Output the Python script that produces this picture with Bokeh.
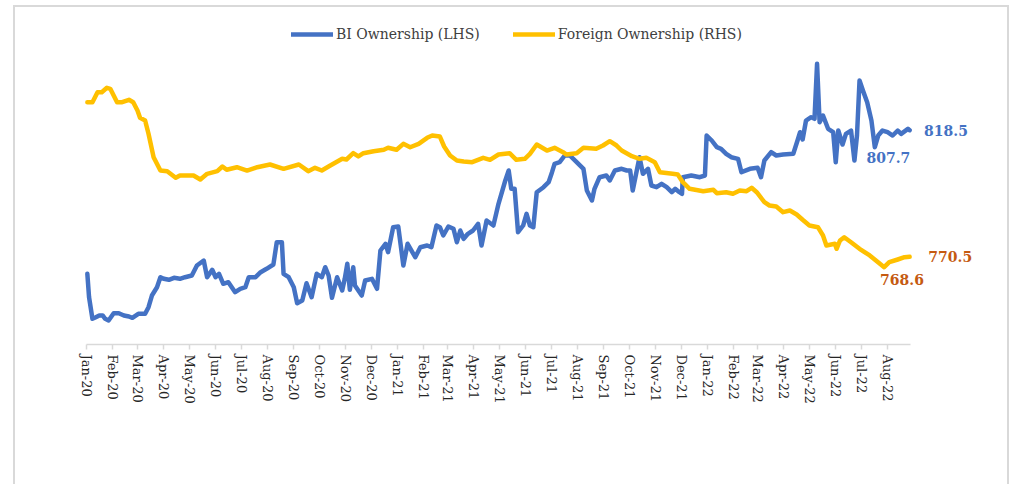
from datetime import datetime
import pandas as pd
from bokeh.plotting import figure
from bokeh.models import (Range1d, DatetimeTickFormatter, MonthsTicker, Legend,
                          LegendItem, Label, ColumnDataSource)
from bokeh.embed import file_html
from bokeh.resources import INLINE

# ---------------- data (Rp trillion) ----------------
bi_dates = [
    "2020-01-02", "2020-01-04", "2020-01-08", "2020-01-12", "2020-01-16", "2020-01-20", "2020-01-23", "2020-01-27",
    "2020-02-02", "2020-02-08", "2020-02-14", "2020-02-20", "2020-02-24", "2020-03-02", "2020-03-10", "2020-03-14",
    "2020-03-18", "2020-03-24", "2020-03-28", "2020-04-01", "2020-04-07", "2020-04-13", "2020-04-20", "2020-04-26",
    "2020-05-04", "2020-05-10", "2020-05-18", "2020-05-22", "2020-05-28", "2020-06-01", "2020-06-05", "2020-06-10",
    "2020-06-16", "2020-06-24", "2020-06-30", "2020-07-06", "2020-07-10", "2020-07-18", "2020-07-24", "2020-07-31",
    "2020-08-08", "2020-08-12", "2020-08-18", "2020-08-20", "2020-08-26", "2020-09-01", "2020-09-05", "2020-09-11",
    "2020-09-16", "2020-09-22", "2020-09-28", "2020-10-04", "2020-10-08", "2020-10-12", "2020-10-16", "2020-10-22",
    "2020-10-28", "2020-10-31", "2020-11-03", "2020-11-06", "2020-11-10", "2020-11-12", "2020-11-20", "2020-11-24",
    "2020-12-02", "2020-12-08", "2020-12-12", "2020-12-18", "2020-12-21", "2020-12-27", "2021-01-02", "2021-01-08",
    "2021-01-13", "2021-01-22", "2021-01-28", "2021-02-05", "2021-02-10", "2021-02-16", "2021-02-20", "2021-02-24",
    "2021-03-02", "2021-03-08", "2021-03-12", "2021-03-16", "2021-03-20", "2021-03-25", "2021-03-31", "2021-04-06",
    "2021-04-10", "2021-04-16", "2021-04-24", "2021-04-30", "2021-05-08", "2021-05-12", "2021-05-15", "2021-05-19",
    "2021-05-23", "2021-05-29", "2021-06-02", "2021-06-06", "2021-06-10", "2021-06-14", "2021-06-22", "2021-06-28",
    "2021-07-02", "2021-07-05", "2021-07-11", "2021-07-17", "2021-07-23", "2021-07-31", "2021-08-08", "2021-08-12",
    "2021-08-18", "2021-08-21", "2021-08-27", "2021-09-04", "2021-09-08", "2021-09-14", "2021-09-22", "2021-09-28",
    "2021-10-02", "2021-10-05", "2021-10-09", "2021-10-13", "2021-10-17", "2021-10-23", "2021-10-27", "2021-11-02",
    "2021-11-08", "2021-11-14", "2021-11-20", "2021-11-24", "2021-11-29", "2021-12-02", "2021-12-03", "2021-12-13",
    "2021-12-23", "2021-12-29", "2021-12-31", "2022-01-06", "2022-01-12", "2022-01-17", "2022-01-23", "2022-01-29",
    "2022-02-06", "2022-02-10", "2022-02-20", "2022-03-01", "2022-03-05", "2022-03-09", "2022-03-17", "2022-03-23",
    "2022-03-31", "2022-04-12", "2022-04-17", "2022-04-20", "2022-04-23", "2022-04-27", "2022-05-03", "2022-05-07",
    "2022-05-10", "2022-05-13", "2022-05-17", "2022-05-23", "2022-05-29", "2022-06-01", "2022-06-04", "2022-06-09",
    "2022-06-13", "2022-06-19", "2022-06-23", "2022-06-26", "2022-06-29", "2022-07-03", "2022-07-08", "2022-07-13",
    "2022-07-17", "2022-07-21", "2022-07-26", "2022-08-01", "2022-08-07", "2022-08-13", "2022-08-17", "2022-08-25",
    "2022-08-27",
]
bi_values = [
    270.0, 180.7, 98.2, 104.3, 110.8, 110.8, 98.2, 91.7,
    119.5, 119.5, 110.8, 106.9, 102.0, 117.3, 117.3, 142.5,
    187.1, 218.8, 257.0, 250.9, 247.1, 254.7, 250.9, 257.0,
    263.5, 301.7, 320.8, 257.0, 285.3, 257.0, 270.0, 231.8,
    237.9, 199.8, 212.7, 218.8, 257.0, 257.0, 276.1, 289.1,
    305.6, 390.7, 390.7, 270.0, 257.0, 218.8, 157.7, 168.0,
    234.1, 180.7, 270.0, 257.0, 295.2, 263.5, 178.4, 257.0,
    206.2, 250.9, 308.2, 208.9, 295.2, 225.3, 187.1, 244.4,
    250.9, 212.7, 359.0, 384.6, 352.5, 448.0, 450.7, 301.7,
    384.6, 333.4, 371.6, 378.1, 371.6, 454.5, 448.0, 416.3,
    450.7, 441.9, 390.7, 435.4, 403.7, 422.8, 435.4, 461.0,
    378.1, 473.6, 454.5, 537.4, 626.4, 664.6, 594.7, 594.7,
    428.9, 454.5, 499.2, 454.5, 448.0, 581.7, 600.8, 619.9,
    658.1, 690.2, 696.3, 721.9, 721.9, 696.3, 671.1, 588.2,
    550.0, 594.7, 639.0, 645.5, 626.4, 664.6, 671.1, 664.6,
    664.6, 588.2, 651.9, 715.4, 651.9, 671.1, 607.3, 600.8,
    613.8, 600.8, 581.7, 594.7, 581.7, 575.6, 639.0, 645.5,
    639.0, 645.5, 798.2, 779.2, 753.6, 747.5, 728.4, 715.4,
    709.2, 658.1, 671.1, 674.9, 639.0, 702.8, 734.5, 721.9,
    725.7, 728.4, 779.2, 810.9, 783.0, 855.5, 868.1, 862.0,
    1072.1, 849.1, 874.6, 823.8, 810.9, 696.3, 817.3, 763.9,
    804.7, 817.3, 702.8, 798.2, 1008.3, 970.1, 925.4, 855.5,
    753.6, 798.2, 817.3, 810.9, 798.2, 817.3, 804.7, 823.8,
    818.5,
]

fo_dates = [
    "2020-01-02", "2020-01-08", "2020-01-14", "2020-01-19", "2020-01-25", "2020-01-29", "2020-02-02", "2020-02-06",
    "2020-02-12", "2020-02-20", "2020-02-25", "2020-03-01", "2020-03-04", "2020-03-10", "2020-03-14", "2020-03-20",
    "2020-03-28", "2020-04-05", "2020-04-15", "2020-04-20", "2020-05-06", "2020-05-14", "2020-05-22", "2020-06-03",
    "2020-06-09", "2020-06-14", "2020-06-26", "2020-07-08", "2020-07-20", "2020-08-04", "2020-08-20", "2020-09-07",
    "2020-09-18", "2020-09-26", "2020-10-04", "2020-10-14", "2020-10-28", "2020-11-02", "2020-11-10", "2020-11-16",
    "2020-11-22", "2020-12-04", "2020-12-16", "2020-12-21", "2020-12-31", "2021-01-08", "2021-01-16", "2021-01-26",
    "2021-02-05", "2021-02-11", "2021-02-20", "2021-02-25", "2021-03-04", "2021-03-12", "2021-03-20", "2021-03-30",
    "2021-04-12", "2021-04-20", "2021-04-30", "2021-05-13", "2021-05-21", "2021-05-31", "2021-06-06", "2021-06-14",
    "2021-06-26", "2021-07-05", "2021-07-15", "2021-07-19", "2021-07-31", "2021-08-08", "2021-08-23", "2021-08-31",
    "2021-09-08", "2021-09-16", "2021-09-22", "2021-10-04", "2021-10-13", "2021-10-21", "2021-10-31", "2021-11-06",
    "2021-11-21", "2021-11-27", "2021-12-03", "2021-12-11", "2021-12-27", "2022-01-08", "2022-01-12", "2022-01-23",
    "2022-01-31", "2022-02-08", "2022-02-16", "2022-02-22", "2022-02-28", "2022-03-09", "2022-03-15", "2022-03-23",
    "2022-03-31", "2022-04-08", "2022-04-16", "2022-04-23", "2022-05-01", "2022-05-11", "2022-05-17", "2022-05-21",
    "2022-05-31", "2022-06-02", "2022-06-06", "2022-06-11", "2022-06-19", "2022-06-29", "2022-07-11", "2022-07-23",
    "2022-07-28", "2022-08-03", "2022-08-13", "2022-08-21", "2022-08-27",
]
fo_values = [
    1071.1, 1071.1, 1090.6, 1090.6, 1099.1, 1097.2, 1084.2, 1071.1,
    1071.1, 1075.8, 1071.1, 1055.0, 1040.8, 1035.6, 1009.7, 964.2,
    938.3, 937.0, 924.1, 928.6, 928.6, 920.8, 931.9, 937.0,
    946.1, 939.7, 944.7, 938.3, 944.7, 950.0, 941.6, 950.0,
    937.0, 943.6, 938.3, 948.0, 961.1, 959.7, 972.0, 965.6,
    972.0, 975.9, 978.6, 982.5, 978.6, 990.2, 983.6, 990.2,
    1001.9, 1006.4, 1004.4, 985.0, 967.5, 957.8, 955.8, 954.5,
    963.0, 959.1, 969.4, 972.0, 959.1, 961.1, 970.8, 988.9,
    977.2, 982.5, 973.9, 969.4, 972.0, 982.5, 980.5, 986.9,
    995.3, 986.9, 977.2, 966.1, 961.1, 963.0, 954.5, 935.0,
    931.9, 930.5, 915.6, 902.8, 898.1, 900.8, 894.2, 896.1,
    893.0, 899.4, 898.1, 904.7, 896.1, 876.7, 870.3, 868.3,
    857.3, 860.6, 852.8, 842.5, 831.4, 828.1, 811.9, 792.5,
    795.8, 786.1, 802.2, 808.6, 798.9, 786.1, 773.1, 756.9,
    750.3, 760.0, 765.3, 769.7, 770.5,
]

# data labels: text, anchor date, anchor value, axis
label_texts = ["818.5", "807.7", "770.5", "768.6"]
label_dates = ["2022-09-13", "2022-08-02", "2022-09-18", "2022-08-18"]
label_values = [818.5, 714.0, 770.5, 726.0]
label_axis = ["lhs", "lhs", "rhs", "rhs"]
label_align = ["left", "center", "left", "center"]

# axis extent and scales
axis_start, axis_end = "2020-01-01", "2022-08-28"
lhs_lo, lhs_hi = 0.0, 1100.0
rhs_lo, rhs_hi = 600.0, 1160.0

BLUE = "#4472C4"
GOLD = "#FFC000"
ORANGE_TXT = "#C55A11"
SERIF = "DejaVu Serif"
GRAY = "#d9d9d9"

# ---------------- layout (page pixels) ----------------
W, H = 1010, 484
OX, OY = 0, 0                  # canvas origin on the page
AX_X0, AX_X1 = 86, 910         # page x of axis start / end
AX_Y, TOP_Y = 344, 56          # page y of axis line and of lhs_hi/rhs_hi

t0 = pd.Timestamp(axis_start).value / 1e6
t1 = pd.Timestamp(axis_end).value / 1e6
ms_px = (t1 - t0) / (AX_X1 - AX_X0)
x_lo = t0 - (AX_X0 - OX) * ms_px
x_hi = t0 + (OX + W - AX_X0) * ms_px
lhs_px = (lhs_hi - lhs_lo) / (AX_Y - TOP_Y)
rhs_px = (rhs_hi - rhs_lo) / (AX_Y - TOP_Y)
frame_h = AX_Y - OY

bi_src = ColumnDataSource(dict(date=pd.to_datetime(bi_dates), value=bi_values))
fo_src = ColumnDataSource(dict(date=pd.to_datetime(fo_dates), value=fo_values))

p = figure(width=W, height=H, x_axis_type="datetime", y_axis_location=None,
           x_range=Range1d(x_lo, x_hi),
           y_range=Range1d(lhs_lo, lhs_lo + frame_h * lhs_px),
           min_border_left=0, min_border_right=0, min_border_top=0,
           min_border_bottom=H - frame_h,
           output_backend="svg", toolbar_location=None)
p.extra_y_ranges = {"rhs": Range1d(rhs_lo, rhs_lo + frame_h * rhs_px)}

# chart-area frame lines (left, right, top) painted behind the transparent canvas
g = f"linear-gradient({GRAY},{GRAY})"
p.styles = {
    "background": (f"{g} 13px 5px / 2px 100% no-repeat, "
                   f"{g} 1007px 5px / 2px 100% no-repeat, "
                   f"{g} 13px 5px / 996px 2px no-repeat"),
}

p.outline_line_color = None
p.xgrid.visible = False
p.ygrid.visible = False
p.background_fill_color = None
p.border_fill_color = None

r_bi = p.line("date", "value", source=bi_src, line_color=BLUE, line_width=4.5,
              line_join="round", line_cap="round")
r_fo = p.line("date", "value", source=fo_src, line_color=GOLD, line_width=4.5,
              line_join="round", line_cap="round", y_range_name="rhs")

ax = p.xaxis[0]
ax.bounds = (t0, t1)
ax.ticker = MonthsTicker(months=list(range(12)))
ax.formatter = DatetimeTickFormatter(months="%b-%y", days="%b-%y", years="%b-%y")
ax.major_label_orientation = "vertical"
ax.axis_line_color = GRAY
ax.axis_line_width = 1.5
ax.major_tick_line_color = GRAY
ax.major_tick_line_width = 1.5
ax.major_tick_in = 0
ax.major_tick_out = 5
ax.minor_tick_line_color = None
ax.major_label_standoff = 5
ax.major_label_text_font = SERIF
ax.major_label_text_font_size = "13px"
ax.major_label_text_color = "#262626"

legend = Legend(items=[LegendItem(label="BI Ownership (LHS)", renderers=[r_bi]),
                       LegendItem(label="Foreign Ownership (RHS)", renderers=[r_fo])],
                location=(291 - OX, AX_Y - 42), orientation="horizontal",
                glyph_width=42, glyph_height=16, label_standoff=3, spacing=33,
                padding=0, margin=0, border_line_color=None, background_fill_alpha=0,
                label_text_font=SERIF, label_text_font_size="14px",
                label_text_color="#404040")
p.add_layout(legend, "center")

for t, d, v, a, al in zip(label_texts, label_dates, label_values, label_axis, label_align):
    kw = {} if a == "lhs" else {"y_range_name": "rhs"}
    p.add_layout(Label(x=pd.Timestamp(d).value / 1e6, y=v, text=t,
                       text_align=al, text_baseline="middle",
                       text_font=SERIF, text_font_size="14px", text_font_style="bold",
                       text_color=BLUE if a == "lhs" else ORANGE_TXT, **kw))

open("out.html", "w").write(file_html(p, INLINE))
